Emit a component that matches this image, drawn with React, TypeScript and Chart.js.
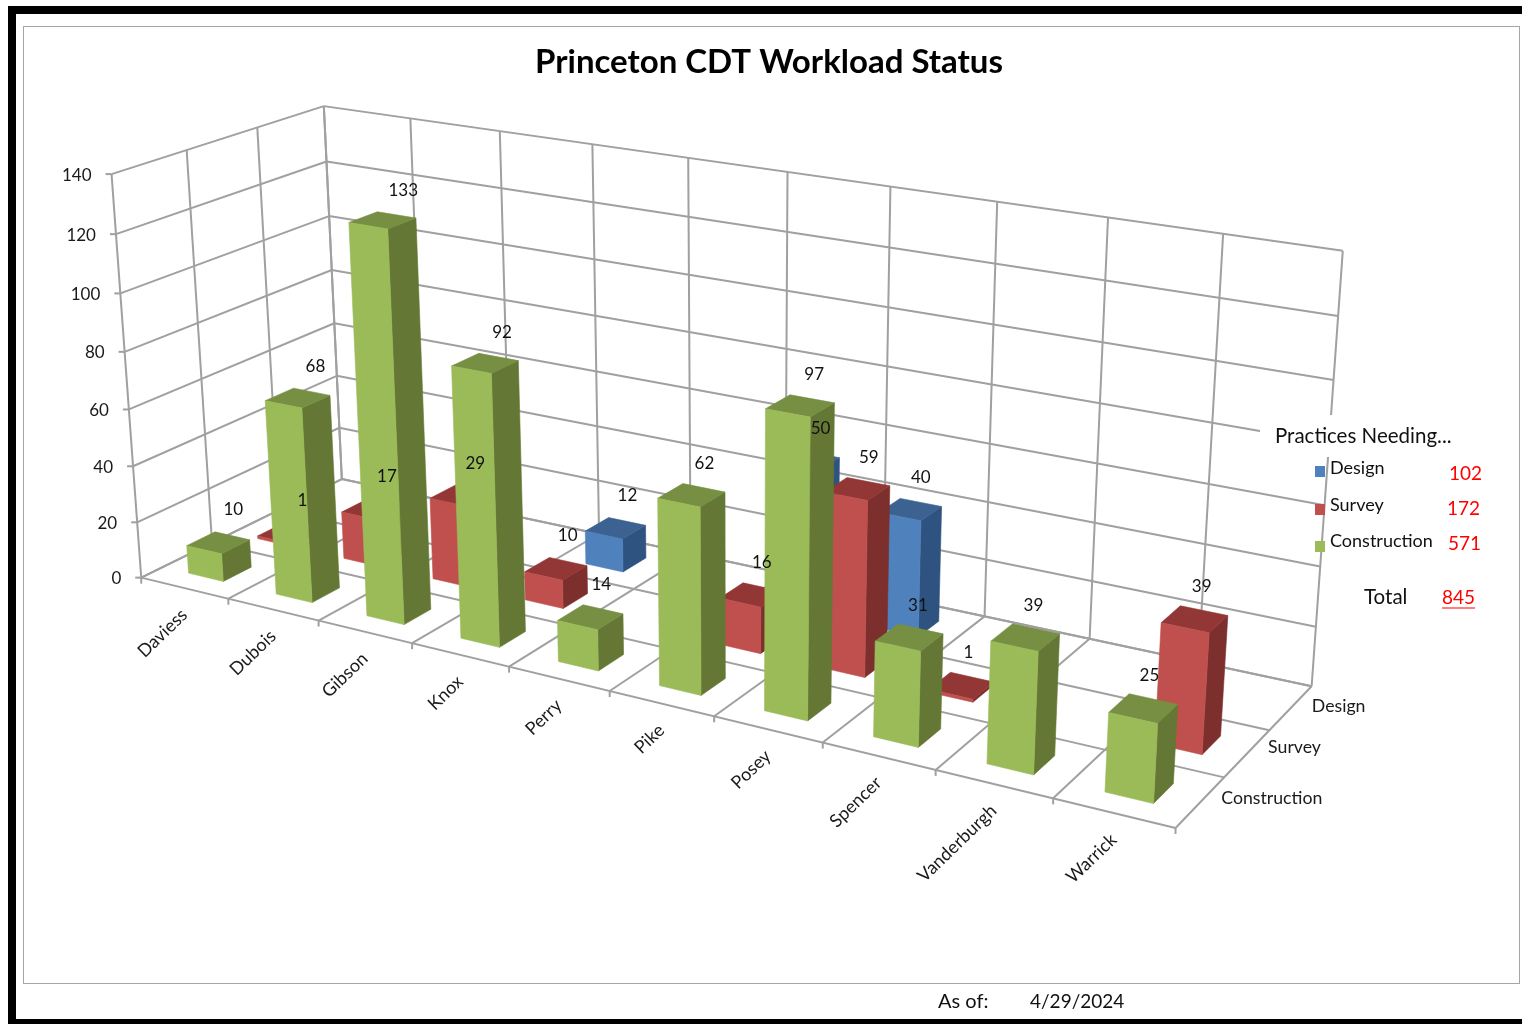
import React, { useEffect, useRef } from "react";
import { Chart, registerables } from "chart.js";

Chart.register(...registerables);

const counties = ["Daviess", "Dubois", "Gibson", "Knox", "Perry", "Pike", "Posey", "Spencer", "Vanderburgh", "Warrick"];
const practices = ["Construction", "Survey", "Design"];
const construction = [10, 68, 133, 92, 14, 62, 97, 31, 39, 25];
const survey = [1, 17, 29, 10, null, 16, 59, 1, null, 39];
const design = [null, null, null, 12, null, 50, 40, null, null, null];
const asOf = "4/29/2024";
const FONT = "Lato, Carlito, sans-serif";

// Camera calibration of the 3D box: [u, w, v, px, py], fitted with a least squares projective solve.
const CALIB = [
  [0, 0, 0, 141.7, 576.7], [0.1, 0, 0, 228, 598], [0.2, 0, 0, 319, 620.7], [0.3, 0, 0, 412, 644],
  [0.4, 0, 0, 509, 667], [0.5, 0, 0, 610, 692], [0.6, 0, 0, 714, 716], [0.7, 0, 0, 823, 742],
  [0.8, 0, 0, 936, 770], [0.9, 0, 0, 1054, 798], [1, 0, 0, 1175.7, 828],
  [1, 1 / 3, 0, 1223, 777], [1, 2 / 3, 0, 1268, 731], [1, 1, 0, 1312, 687],
  [0, 1, 1, 324, 106], [0, 1, 6 / 7, 327, 162], [0, 1, 5 / 7, 329, 216], [0, 1, 4 / 7, 332, 270],
  [0, 1, 3 / 7, 334, 323], [0, 1, 1 / 7, 340, 428], [0, 1, 0, 341, 479],
  [1, 1, 1, 1343, 251], [1, 1, 6 / 7, 1338, 316], [1, 1, 5 / 7, 1333, 380], [1, 1, 3 / 7, 1326, 504],
  [1, 1, 2 / 7, 1320, 566], [1, 1, 1 / 7, 1316, 627],
  [0, 0, 1, 112, 174], [0, 0, 6 / 7, 115, 235], [0, 0, 5 / 7, 120, 293],
  [0.2, 1, 1, 500, 131], [0.5, 1, 1, 787, 172], [0.8, 1, 1, 1108, 217.5],
];

function solveCamera() {
  const n = 11;
  const A = Array.from({ length: n }, () => new Array(n + 1).fill(0));
  const add = (r: number[], t: number) => {
    for (let i = 0; i < n; i++) {
      for (let j = 0; j < n; j++) A[i][j] += r[i] * r[j];
      A[i][n] += r[i] * t;
    }
  };
  for (const [u, w, v, px, py] of CALIB) {
    const x = px / 1000, y = py / 1000;
    add([u, w, v, 1, 0, 0, 0, 0, -x * u, -x * w, -x * v], x);
    add([0, 0, 0, 0, u, w, v, 1, -y * u, -y * w, -y * v], y);
  }
  for (let c = 0; c < n; c++) {
    let p = c;
    for (let r = c + 1; r < n; r++) if (Math.abs(A[r][c]) > Math.abs(A[p][c])) p = r;
    [A[c], A[p]] = [A[p], A[c]];
    for (let r = 0; r < n; r++) {
      if (r === c) continue;
      const f = A[r][c] / A[c][c];
      for (let k = c; k <= n; k++) A[r][k] -= f * A[c][k];
    }
  }
  return A.map((row, i) => row[n] / row[i]);
}
const CAM = solveCamera();
function project(u: number, w: number, v: number): [number, number] {
  const c = CAM;
  const d = c[8] * u + c[9] * w + c[10] * v + 1;
  return [
    (1000 * (c[0] * u + c[1] * w + c[2] * v + c[3])) / d,
    (1000 * (c[4] * u + c[5] * w + c[6] * v + c[7])) / d,
  ];
}

const BAR_W = 0.4;
const BAR_D = 0.4;
const DEPTH_LABEL_DY = [-4, -6, -2];

function text(ctx: any, s: string, x: number, y: number, size: number, color = "#111", align = "left", weight = "") {
  ctx.font = `${weight} ${size}px ${FONT}`;
  ctx.fillStyle = color;
  ctx.textAlign = align;
  ctx.textBaseline = "middle";
  ctx.fillText(s, x, y);
}

const box3d = {
  id: "box3d",
  beforeDraw(chart: any) {
    const ctx = chart.ctx;
    ctx.save();
    ctx.fillStyle = "#fff";
    ctx.fillRect(0, 0, 1522, 1024);
    ctx.fillStyle = "#000";
    ctx.fillRect(8, 6, 1514, 8);
    ctx.fillRect(8, 6, 8, 1018);
    ctx.fillRect(8, 1019, 1514, 5);
    ctx.strokeStyle = "#a6a6a6";
    ctx.lineWidth = 1;
    ctx.strokeRect(23.5, 26.5, 1496, 957);
    ctx.restore();
  },
  beforeDatasetsDraw(chart: any) {
    const ctx = chart.ctx;
    const { x, y, z } = chart.scales;
    const U = (i: number) => (x.getPixelForValue(i) - x.left) / x.width;
    const W = (i: number) => (z.getPixelForValue(i) - z.left) / z.width;
    const V = (val: number) => (y.bottom - y.getPixelForValue(val)) / y.height;
    const nC = counties.length;
    const nD = practices.length;
    const halfU = U(0);
    const halfW = W(0);

    const line = (a: [number, number], b: [number, number]) => {
      ctx.beginPath();
      ctx.moveTo(a[0], a[1]);
      ctx.lineTo(b[0], b[1]);
      ctx.stroke();
    };
    ctx.save();
    ctx.strokeStyle = "#a0a0a0";
    ctx.lineWidth = 2;
    for (const t of y.ticks) {
      const v = V(t.value);
      const p0 = project(0, 0, v);
      const p1 = project(0, 1, v);
      const p2 = project(1, 1, v);
      line(p0, p1);
      line(p1, p2);
      line([p0[0] - 6, p0[1]], p0);
      text(ctx, String(t.label), p0[0] - 20, p0[1] + 1, 17, "#1a1a1a", "right");
    }
    for (let i = 0; i <= nC; i++) {
      const u = i === nC ? 1 : U(i) - halfU;
      const f = project(u, 0, 0);
      line(f, project(u, 1, 0));
      line(project(u, 1, 0), project(u, 1, 1));
      line(f, [f[0], f[1] + 6]);
    }
    for (let j = 0; j <= nD; j++) {
      const w = j === nD ? 1 : W(j) - halfW;
      line(project(0, w, 0), project(1, w, 0));
      line(project(0, w, 0), project(0, w, 1));
    }
    ctx.restore();

    // white panel behind the legend heading
    ctx.fillStyle = "#fff";
    ctx.fillRect(1260, 415, 195, 42);

    // axis labels
    counties.forEach((name, i) => {
      const p = project(U(i), 0, 0);
      ctx.save();
      ctx.translate(p[0], p[1] + 24);
      ctx.rotate((-44 * Math.PI) / 180);
      text(ctx, name, 0, 0, 18, "#1a1a1a", "right");
      ctx.restore();
    });
    practices.forEach((name, j) => {
      const p = project(1, W(j), 0);
      text(ctx, name, p[0] + 21, p[1] + DEPTH_LABEL_DY[j], 17.7, "#1a1a1a", "left");
    });

    // bars: back row first, left to right inside a row
    const labels: [string, number, number][] = [];
    for (let j = nD - 1; j >= 0; j--) {
      const ds = chart.data.datasets[j];
      ds.data.forEach((val: number | null, i: number) => {
        if (val == null) return;
        const u0 = U(i) - halfU * BAR_W, u1 = U(i) + halfU * BAR_W;
        const w0 = W(j) - halfW * BAR_D, w1 = W(j) + halfW * BAR_D;
        const top = V(val);
        const poly = (pts: [number, number][], color: string) => {
          ctx.beginPath();
          pts.forEach((p, k) => (k ? ctx.lineTo(p[0], p[1]) : ctx.moveTo(p[0], p[1])));
          ctx.closePath();
          ctx.fillStyle = color;
          ctx.strokeStyle = color;
          ctx.lineWidth = 0.6;
          ctx.fill();
          ctx.stroke();
        };
        poly([project(u1, w0, 0), project(u1, w1, 0), project(u1, w1, top), project(u1, w0, top)], ds.sideColor);
        poly([project(u0, w0, top), project(u1, w0, top), project(u1, w1, top), project(u0, w1, top)], ds.topColor);
        poly([project(u0, w0, 0), project(u1, w0, 0), project(u1, w0, top), project(u0, w0, top)], ds.backgroundColor);
        const c = project(U(i), W(j), top);
        labels.push([String(val), c[0] + 15 - 11 * U(i) + 9 * top, c[1] - 33 + 3 * top]);
      });
    }
    labels.forEach(([s, px, py]) => text(ctx, s, px, py, 17, "#111", "center"));

    // legend block
    text(ctx, "Practices Needing...", 1275, 436, 20.5, "#111");
    const legendY = [468, 505, 541];
    const swatchY = [471, 509, 546];
    const totalY = [474, 509, 544];
    const totalX = [1482, 1480, 1481];
    let grand = 0;
    [2, 1, 0].forEach((j, row) => {
      const ds = chart.data.datasets[j];
      ctx.fillStyle = ds.backgroundColor;
      ctx.fillRect(1315, swatchY[row] - 5, 10, 11);
      text(ctx, ds.label, 1330, legendY[row], 18, "#111");
      const sum = ds.data.reduce((a: number, b: number | null) => a + (b ?? 0), 0);
      grand += sum;
      text(ctx, String(sum), totalX[row], totalY[row], 19, "#ff0000", "right");
    });
    text(ctx, "Total", 1364, 597, 20.5, "#111");
    text(ctx, String(grand), 1475, 598, 19, "#ff0000", "right");
    ctx.strokeStyle = "#ff0000";
    ctx.lineWidth = 1.2;
    ctx.beginPath();
    ctx.moveTo(1442, 608);
    ctx.lineTo(1475, 608);
    ctx.stroke();
    text(ctx, "As of:", 938, 1002, 20, "#111");
    text(ctx, asOf, 1030, 1002, 19, "#111");
    return false;
  },
};

export default function App() {
  const ref = useRef<HTMLCanvasElement>(null);
  useEffect(() => {
    const chart = new Chart(ref.current!, {
      type: "bar",
      data: {
        labels: counties,
        datasets: [
          { label: "Construction", data: construction, backgroundColor: "#9BBB59", sideColor: "#657734", topColor: "#768F42" },
          { label: "Survey", data: survey, backgroundColor: "#C0504D", sideColor: "#7C2F2D", topColor: "#923735" },
          { label: "Design", data: design, backgroundColor: "#4F81BD", sideColor: "#2F5380", topColor: "#3B6291" },
        ] as any,
      },
      options: {
        responsive: false,
        animation: false,
        layout: { padding: { left: 16 } },
        plugins: {
          legend: { display: false },
          tooltip: { enabled: false },
          title: {
            display: true,
            text: "Princeton CDT Workload Status",
            color: "#000",
            font: { family: FONT, size: 33, weight: "bold" },
            padding: { top: 43, bottom: 20 },
          },
        },
        scales: {
          x: { type: "category", display: false },
          y: { type: "linear", display: false, min: 0, max: 140, ticks: { stepSize: 20 } },
          z: { type: "category", axis: "x", display: false, labels: practices },
        },
      } as any,
      plugins: [box3d as any],
    });
    return () => chart.destroy();
  }, []);
  return (
    <canvas
      ref={ref}
      width={1522}
      height={1024}
      style={{ position: "absolute", left: 0, top: 0, display: "block" }}
    />
  );
}
